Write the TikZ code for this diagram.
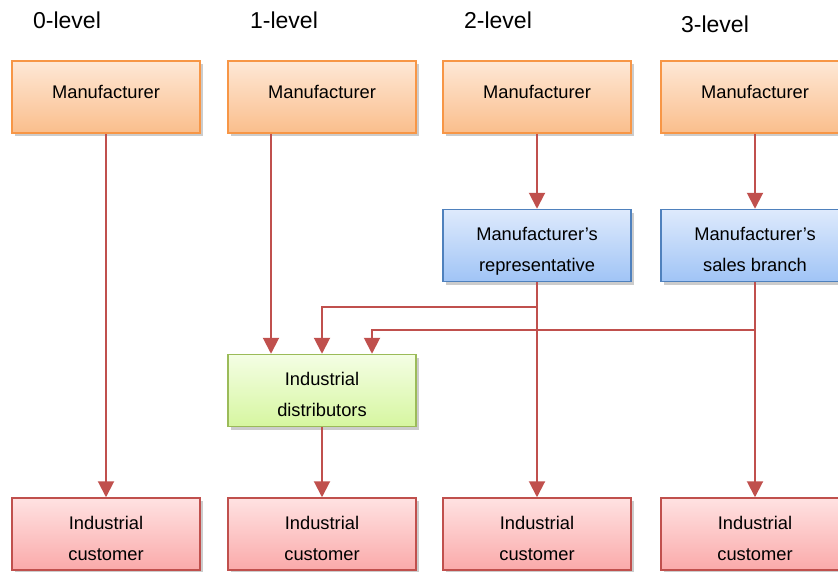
\documentclass[tikz,border=0pt]{standalone}
\usepackage{fontspec}
\setmainfont{Liberation Sans}
\usetikzlibrary{arrows.meta,positioning,calc,shadows}
\definecolor{rougeTrait}{RGB}{192,80,77}
\definecolor{orangeBord}{RGB}{247,150,70}
\definecolor{orangeHaut}{RGB}{254,232,214}
\definecolor{orangeBas}{RGB}{250,190,140}
\definecolor{bleuBord}{RGB}{79,129,189}
\definecolor{bleuHaut}{RGB}{222,234,252}
\definecolor{bleuBas}{RGB}{160,196,246}
\definecolor{vertBord}{RGB}{155,187,89}
\definecolor{vertHaut}{RGB}{244,254,228}
\definecolor{vertBas}{RGB}{214,246,160}
\definecolor{rougeBord}{RGB}{192,80,77}
\definecolor{rougeHaut}{RGB}{255,226,226}
\definecolor{rougeBas}{RGB}{250,170,170}

\begin{document}
\begin{tikzpicture}[x=1pt,y=-1pt]
\tikzstyle{fleche}=[-{Triangle[length=16pt,width=16pt]},draw=rougeTrait,line width=2pt]
\tikzstyle{boite}=[rectangle,minimum width=188pt,minimum height=72pt,inner sep=0pt,align=center,line width=1.5pt,font=\fontsize{18.3}{31}\selectfont,drop shadow={shadow xshift=3pt,shadow yshift=-3pt,opacity=0.2,fill=black}]
\tikzstyle{deuxlignes}=[text height=52pt,text depth=0pt]
\tikzstyle{fabricant}=[boite,text depth=10pt,draw=orangeBord,top color=orangeHaut,bottom color=orangeBas]
\tikzstyle{agent}=[boite,deuxlignes,draw=bleuBord,top color=bleuHaut,bottom color=bleuBas]
\tikzstyle{grossiste}=[boite,deuxlignes,draw=vertBord,top color=vertHaut,bottom color=vertBas]
\tikzstyle{client}=[boite,deuxlignes,draw=rougeBord,top color=rougeHaut,bottom color=rougeBas]
\tikzstyle{niveau}=[font=\fontsize{23}{27}\selectfont]
\def\NiveauA{97}
\def\NiveauB{245.5}
\def\NiveauC{390.5}
\def\NiveauD{534}
\def\ColonneA{106}
\def\ColonneB{322}
\def\ColonneC{537}
\def\ColonneD{755}
\useasboundingbox (0,0) rectangle (838,571);
\clip (0,0) rectangle (838,571);
\node[niveau] (N0) at (67,20) {0-level};
\node[niveau] (N1) at (284,20) {1-level};
\node[niveau] (N2) at (498,20) {2-level};
\node[niveau] (N3) at (715,24) {3-level};
\node[fabricant] (F0) at ({\ColonneA},{\NiveauA}) {Manufacturer};
\node[fabricant] (F1) at ({\ColonneB},{\NiveauA}) {Manufacturer};
\node[fabricant] (F2) at ({\ColonneC},{\NiveauA}) {Manufacturer};
\node[fabricant] (F3) at ({\ColonneD},{\NiveauA}) {Manufacturer};
\node[agent] (Rep) at ({\ColonneC},{\NiveauB}) {Manufacturer’s\\representative};
\node[agent] (Suc) at ({\ColonneD},{\NiveauB}) {Manufacturer’s\\sales branch};
\node[grossiste] (Dis) at ({\ColonneB},{\NiveauC}) {Industrial\\distributors};
\node[client] (C0) at ({\ColonneA},{\NiveauD}) {Industrial\\customer};
\node[client] (C1) at ({\ColonneB},{\NiveauD}) {Industrial\\customer};
\node[client] (C2) at ({\ColonneC},{\NiveauD}) {Industrial\\customer};
\node[client] (C3) at ({\ColonneD},{\NiveauD}) {Industrial\\customer};
\draw[fleche] (F0)--(C0);
\draw[fleche] ([xshift=-51pt]F1.south)--([xshift=-51pt]Dis.north);
\draw[fleche] (F2)--(Rep);
\draw[fleche] (F3)--(Suc);
\draw[fleche] (Rep)--(C2);
\draw[fleche] (Suc)--(C3);
\draw[fleche] (Rep.south)--++(0,25)-|(Dis.north);
\draw[fleche] (Suc.south)--++(0,48)-|([xshift=50pt]Dis.north);
\draw[fleche] (Dis)--(C1);
\end{tikzpicture}
\end{document}
